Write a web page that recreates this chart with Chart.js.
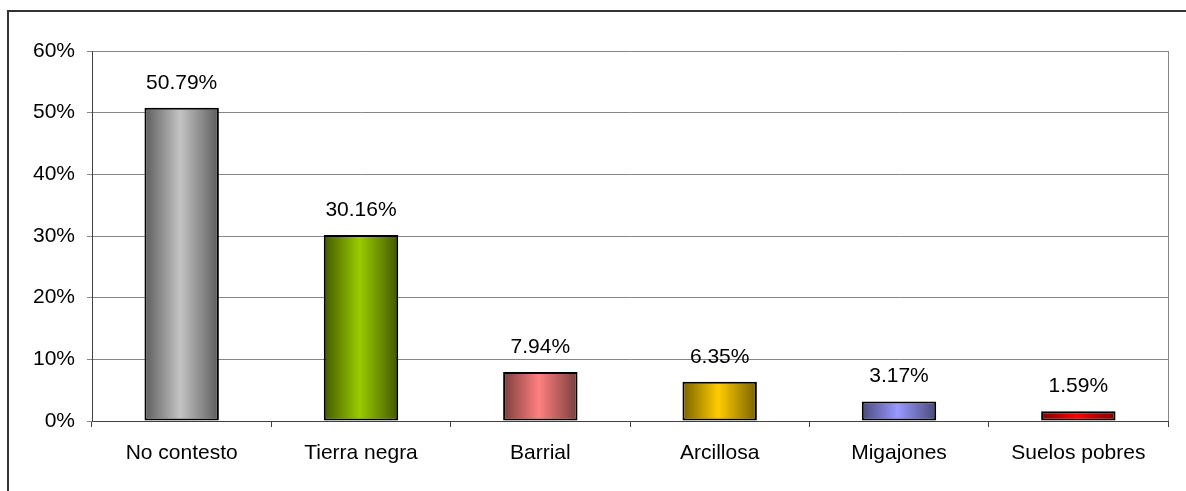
<!DOCTYPE html>
<html>
<head>
<meta charset="utf-8">
<script src="https://cdn.jsdelivr.net/npm/chart.js@4/dist/chart.umd.min.js"></script>
<style>
  html, body { margin: 0; padding: 0; background: #fff; }
  #wrap { position: relative; width: 1186px; height: 491px; }
</style>
</head>
<body>
<div id="wrap"><canvas id="chart"></canvas></div>
<script>
// ---------------------------------------------------------------------
// Dati
// ---------------------------------------------------------------------
const CATEGORIE = ['No contesto', 'Tierra negra', 'Barrial', 'Arcillosa', 'Migajones', 'Suelos pobres'];
const VALORI    = [50.79, 30.16, 7.94, 6.35, 3.17, 1.59];
const ETICHETTE = ['50.79%', '30.16%', '7.94%', '6.35%', '3.17%', '1.59%'];
const TICKS_Y   = [0, 10, 20, 30, 40, 50, 60];

// colore centrale / colore ai bordi di ogni barra (sfumatura orizzontale)
const CENTRO = ['#c4c4c4', '#99cc00', '#ff8080', '#ffcc00', '#9999ff', '#ff0000'];
const BORDO  = ['#5c5c5c', '#435800', '#7a3d3d', '#7a6200', '#4a4a7a', '#7a0000'];

const FONT = { family: "'Liberation Sans', Arial, sans-serif", size: 21 };
const BAR_PCT = 0.415;

// sfumatura: scuro ai lati, chiaro al centro
function gradBarra(ctx) {
  const chart = ctx.chart;
  const xs = chart.scales.x;
  if (!chart.chartArea || !xs) return CENTRO[ctx.dataIndex];
  const i  = ctx.dataIndex;
  const cx = xs.getPixelForValue(i);
  const half = (xs.width / CATEGORIE.length) * BAR_PCT / 2;
  const g = chart.ctx.createLinearGradient(cx - half, 0, cx + half, 0);
  g.addColorStop(0,    BORDO[i]);
  g.addColorStop(0.48, CENTRO[i]);
  g.addColorStop(1,    BORDO[i]);
  return g;
}

// cornice esterna + bordo destro area grafico
const cornice = {
  id: 'cornice',
  beforeDraw(chart) {
    const c = chart.ctx;
    c.save();
    c.strokeStyle = '#333';
    c.lineWidth = 2;
    c.strokeRect(8, 11, 2000, 2000);
    c.restore();
  },
  afterDraw(chart) {
    const a = chart.chartArea, c = chart.ctx;
    c.save();
    c.strokeStyle = '#868686';
    c.lineWidth = 1;
    c.beginPath();
    c.moveTo(Math.round(a.right) + 0.5, a.top);
    c.lineTo(Math.round(a.right) + 0.5, a.bottom);
    c.stroke();
    c.restore();
  }
};

// etichette valori sopra le barre
const valori = {
  id: 'valori',
  afterDatasetsDraw(chart) {
    const c = chart.ctx;
    const meta = chart.getDatasetMeta(0);
    c.save();
    c.font = FONT.size + 'px ' + FONT.family;
    c.fillStyle = '#000';
    c.textAlign = 'center';
    c.textBaseline = 'alphabetic';
    meta.data.forEach((bar, i) => {
      c.fillText(ETICHETTE[i], bar.x, bar.y - 19);
    });
    c.restore();
  }
};

new Chart(document.getElementById('chart'), {
  type: 'bar',
  data: {
    labels: CATEGORIE,
    datasets: [{
      data: VALORI,
      backgroundColor: gradBarra,
      borderColor: '#000',
      borderWidth: 2,
      borderSkipped: false,
      categoryPercentage: 1,
      barPercentage: BAR_PCT
    }]
  },
  options: {
    responsive: true,
    maintainAspectRatio: false,
    animation: false,
    layout: { padding: { left: 0, right: 18, top: 51, bottom: 0 } },
    plugins: { legend: { display: false }, tooltip: { enabled: false } },
    scales: {
      x: {
        grid: { drawOnChartArea: false, drawTicks: true, tickLength: 6, color: '#404040', offset: true },
        border: { display: true, color: '#404040', width: 1 },
        ticks: { color: '#000', font: FONT, padding: 14, maxRotation: 0, autoSkip: false },
        afterFit: s => { s.height = 70; }
      },
      y: {
        min: 0,
        max: 60,
        afterBuildTicks: s => { s.ticks = TICKS_Y.map(v => ({ value: v })); },
        grid: { color: '#868686', tickLength: 5, drawTicks: true },
        border: { display: true, color: '#404040', width: 1 },
        ticks: { color: '#000', font: FONT, padding: 12, callback: v => v + '%' },
        afterFit: s => { s.width = 92; }
      }
    }
  },
  plugins: [cornice, valori]
});
</script>
</body>
</html>
